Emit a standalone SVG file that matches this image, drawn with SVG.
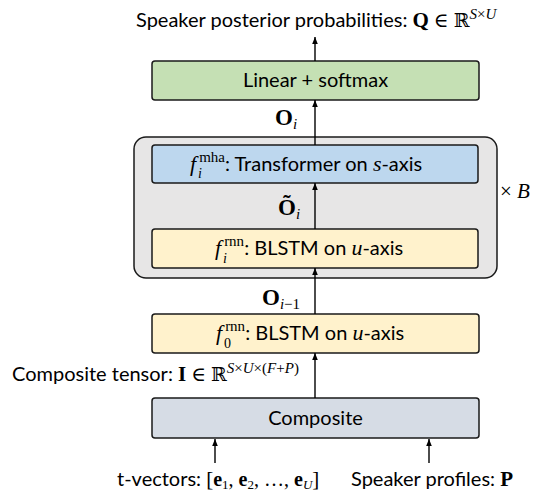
<svg xmlns="http://www.w3.org/2000/svg" width="533" height="492" viewBox="0 0 533 492">
<defs>
<marker id="ah" viewBox="0 0 10 10" refX="10" refY="5" markerWidth="7" markerHeight="7" markerUnits="userSpaceOnUse" orient="auto">
<path d="M0,1 L10,5 L0,9 z" fill="#000"/>
</marker>
<style>
.box{stroke:#1a1a1a;stroke-width:1.5}
.t{font-family:Lato,"Liberation Sans",sans-serif;font-size:20px;fill:#000}
.m{font-family:"Liberation Serif","DejaVu Serif",serif;fill:#000}
.it{font-style:italic}
.b{font-weight:bold}
.c{stroke:#000;stroke-width:1.4;fill:none;marker-end:url(#ah)}
</style>
</defs>
<rect width="533" height="492" fill="#fff"/>

<g id="title">
<text x="136" y="27" class="t">Speaker posterior probabilities: <tspan class="m b" font-size="21">Q</tspan><tspan class="m" font-size="20"> ∈ </tspan><tspan class="m" font-family="DejaVu Serif" font-size="19">ℝ</tspan><tspan class="m it" font-size="15" dy="-8">S</tspan><tspan class="m" font-size="15">×</tspan><tspan class="m it" font-size="15">U</tspan></text>
</g>

<g id="block">
<rect x="134" y="137" width="363" height="141" rx="12" fill="#E7E6E6" class="box"/>
<text x="500" y="198" class="m" font-size="21">× <tspan class="it" font-size="21">B</tspan></text>
</g>

<g id="linear">
<rect x="152" y="61" width="327" height="39" rx="3" fill="#C5E0B4" class="box"/>
<text x="315.5" y="87" class="t" text-anchor="middle">Linear + softmax</text>
</g>

<g id="mha">
<rect x="152" y="145" width="326" height="38" rx="3" fill="#BDD7EE" class="box"/>
<text x="190" y="170.5" class="t"><tspan class="m it" font-size="22">f</tspan><tspan class="m" font-size="15" dx="3" dy="-9">mha</tspan><tspan dy="9">: Transformer on </tspan><tspan class="m it" font-size="22">s</tspan>-axis</text>
<text x="198" y="178" class="m it" font-size="14">i</text>
</g>

<g id="rnn_i">
<rect x="152" y="229" width="326" height="39" rx="3" fill="#FFF2CC" class="box"/>
<text x="215" y="255" class="t"><tspan class="m it" font-size="22">f</tspan><tspan class="m" font-size="15" dx="3" dy="-9">rnn</tspan><tspan dy="9">: BLSTM on </tspan><tspan class="m it" font-size="22">u</tspan>-axis</text>
<text x="223" y="262.5" class="m it" font-size="14">i</text>
</g>

<g id="rnn_0">
<rect x="152" y="314" width="327" height="39" rx="3" fill="#FFF2CC" class="box"/>
<text x="216" y="340" class="t"><tspan class="m it" font-size="22">f</tspan><tspan class="m" font-size="15" dx="3" dy="-9">rnn</tspan><tspan dy="9">: BLSTM on </tspan><tspan class="m it" font-size="22">u</tspan>-axis</text>
<text x="224" y="347.5" class="m" font-size="14">0</text>
</g>

<g id="composite">
<rect x="152" y="398" width="327" height="40" rx="3" fill="#D6DCE5" class="box"/>
<text x="315.5" y="424.5" class="t" text-anchor="middle">Composite</text>
</g>

<g id="connectors">
<line x1="315" y1="61" x2="315" y2="37" class="c"/>
<line x1="315" y1="145" x2="315" y2="100" class="c"/>
<line x1="315" y1="229" x2="315" y2="183" class="c"/>
<line x1="315" y1="314" x2="315" y2="268" class="c"/>
<line x1="315" y1="398" x2="315" y2="353" class="c"/>
<line x1="215" y1="463" x2="215" y2="439" class="c"/>
<line x1="429" y1="463" x2="429" y2="439" class="c"/>
</g>

<g id="labels">
<text x="275" y="125" class="m b" font-size="23">O<tspan class="it" font-size="15" font-weight="normal" dy="4">i</tspan></text>
<text x="278" y="215" class="m b" font-size="23">Õ<tspan class="it" font-size="15" font-weight="normal" dy="4">i</tspan></text>
<text x="262" y="305" class="m b" font-size="23">O<tspan font-size="15" font-weight="normal" dy="4"><tspan class="it">i</tspan>−1</tspan></text>
<text x="12" y="381" class="t">Composite tensor: <tspan class="m b" font-size="21">I</tspan><tspan class="m" font-size="20"> ∈ </tspan><tspan class="m" font-family="DejaVu Serif" font-size="19">ℝ</tspan><tspan class="m" font-size="15" dy="-8"><tspan class="it">S</tspan>×<tspan class="it">U</tspan>×(<tspan class="it">F</tspan>+<tspan class="it">P</tspan>)</tspan></text>
<text x="117" y="486" class="t">t-vectors: <tspan class="m" font-size="21">[</tspan><tspan class="m b" font-size="20">e</tspan><tspan class="m" font-size="13" dy="3">1</tspan><tspan class="m" font-size="20" dy="-3">, </tspan><tspan class="m b" font-size="20">e</tspan><tspan class="m" font-size="13" dy="3">2</tspan><tspan class="m" font-size="20" dy="-3">, …, </tspan><tspan class="m b" font-size="20">e</tspan><tspan class="m it" font-size="13" dy="3">U</tspan><tspan class="m" font-size="21" dy="-3">]</tspan></text>
<text x="351" y="486" class="t">Speaker profiles: <tspan class="m b" font-size="21">P</tspan></text>
</g>
</svg>
